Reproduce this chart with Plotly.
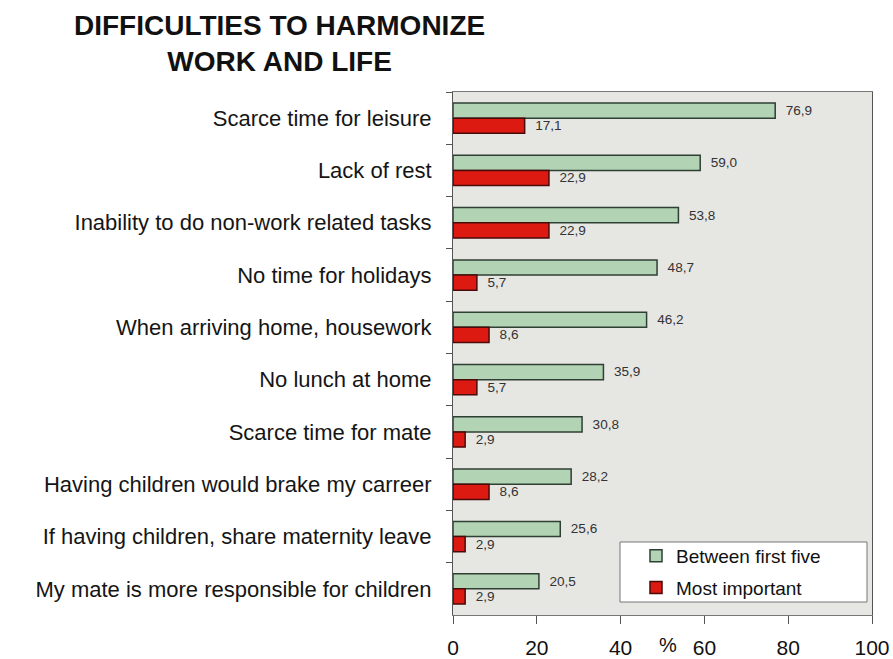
import plotly.graph_objects as go

categories = [
    "Scarce time for leisure",
    "Lack of rest",
    "Inability to do non-work related tasks",
    "No time for holidays",
    "When arriving home, housework",
    "No lunch at home",
    "Scarce time for mate",
    "Having children would brake my carreer",
    "If having children, share maternity leave",
    "My mate is more responsible for children",
]
between_first_five = [76.9, 59.0, 53.8, 48.7, 46.2, 35.9, 30.8, 28.2, 25.6, 20.5]
most_important = [17.1, 22.9, 22.9, 5.7, 8.6, 5.7, 2.9, 8.6, 2.9, 2.9]
x_ticks = [0, 20, 40, 60, 80, 100]

def fmt(v):
    return "  " + f"{v:.1f}".replace(".", ",")

W, H = 893, 659
L, R, T, B = 453, 872, 92, 615
PW, PH = R - L, B - T

FONT = "Liberation Sans, Arial, sans-serif"

fig = go.Figure()
fig.add_trace(go.Bar(
    y=categories, x=between_first_five, orientation="h",
    name="Between first five", legendgroup="a",
    marker=dict(color="#b2d4b5", line=dict(color="#2f3f33", width=1.5)),
    text=[fmt(v) for v in between_first_five], textposition="outside",
    textfont=dict(size=17, color="#333333", family=FONT),
    cliponaxis=False,
))
fig.add_trace(go.Bar(
    y=categories, x=most_important, orientation="h",
    name="Most important", legendgroup="b",
    marker=dict(color="#dd1a12", line=dict(color="#4a0a08", width=1.5)),
    text=[fmt(v) for v in most_important], textposition="outside",
    textfont=dict(size=17, color="#333333", family=FONT),
    cliponaxis=False,
))

def px_x(px):
    return (px - L) / PW

def px_y(py):
    return (B - py) / PH

fig.update_layout(
    width=W, height=H,
    margin=dict(l=L, r=W - R, t=T, b=H - B, autoexpand=False),
    paper_bgcolor="white",
    plot_bgcolor="#e6e6e3",
    barmode="group",
    bargap=0.42,
    bargroupgap=0,
    font=dict(family=FONT, color="#111111"),
    showlegend=True,
    legend=dict(
        x=px_x(636), xanchor="left", y=px_y(537), yanchor="top",
        bgcolor="rgba(0,0,0,0)", borderwidth=0,
        font=dict(size=19, color="#111111", family=FONT),
        itemwidth=30, tracegroupgap=4,
    ),
    shapes=[
        dict(type="rect", xref="paper", yref="paper",
             x0=px_x(620), x1=px_x(867), y0=px_y(602), y1=px_y(542),
             fillcolor="white", line=dict(color="#777777", width=1),
             layer="above"),
    ],
    xaxis=dict(
        range=[0, 100], tickvals=x_ticks, ticktext=[str(t) for t in x_ticks],
        showgrid=False, zeroline=False,
        showline=True, linecolor="#777777", linewidth=1, mirror=True,
        ticks="outside", ticklen=8, tickcolor="#555555",
        tickfont=dict(size=21, color="#111111", family=FONT),
        ticklabelstandoff=6,
    ),
    yaxis=dict(
        type="category", autorange="reversed",
        showgrid=False, zeroline=False,
        showline=True, linecolor="#555555", linewidth=1, mirror=True,
        ticks="outside", ticklen=6, tickcolor="#555555", tickson="boundaries",
        tickfont=dict(size=22, color="#151515", family=FONT),
        ticklabelstandoff=16,
    ),
    annotations=[
        dict(text="<b>DIFFICULTIES TO HARMONIZE<br>WORK AND LIFE</b>",
             xref="paper", yref="paper",
             x=px_x(279), y=px_y(44),
             xanchor="center", yanchor="middle", showarrow=False,
             font=dict(size=28, color="#111111", family=FONT),
             align="center"),
        dict(text="%", xref="paper", yref="paper",
             x=px_x(668), y=px_y(645),
             xanchor="center", yanchor="middle", showarrow=False,
             font=dict(size=20, color="#111111", family=FONT)),
    ],
)

fig.write_html(
    "out.html",
    config={"displayModeBar": False},
    post_script="document.body.style.margin='0';document.body.style.overflow='hidden';",
)
